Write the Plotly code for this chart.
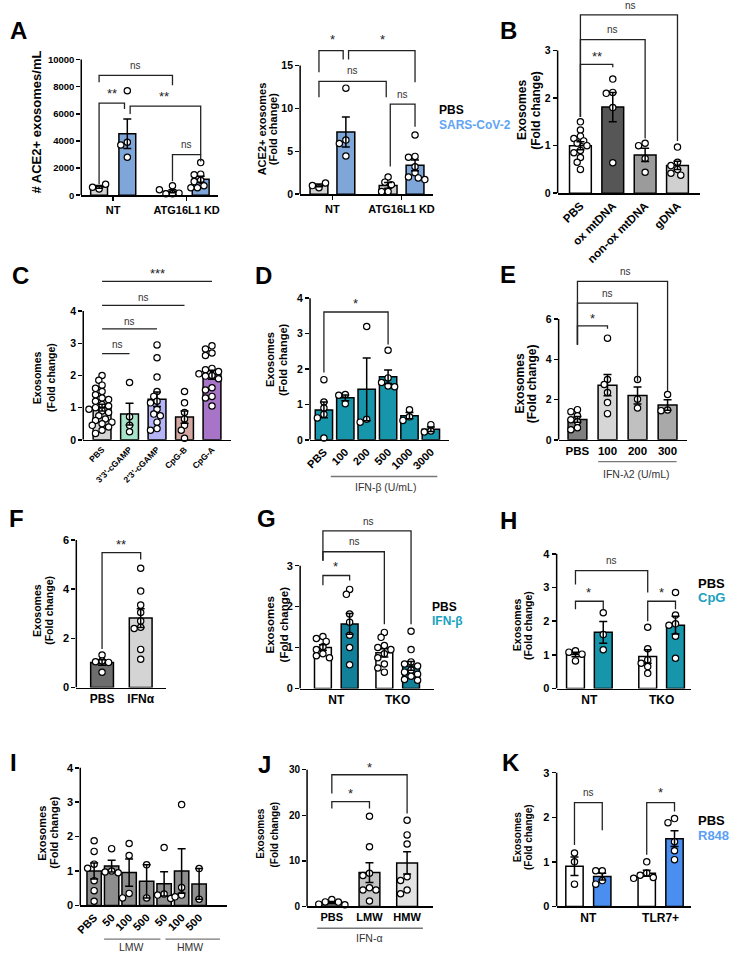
import plotly.graph_objects as go

W, H = 729, 959
FONT = "Liberation Sans"

# ======================= DATA =======================
# Panel A (left): ACE2+ exosome counts
A1_xlabels = ["NT", "ATG16L1 KD"]
A1_series = ["PBS", "SARS-CoV-2"]
A1_nt_pbs = [460, 580, 800]
A1_nt_sars = [7700, 3900, 3700, 2800]
A1_kd_pbs = [100, 100, 150, 400, 700]
A1_kd_sars = [2400, 1550, 1500, 1100, 1000, 700, 550, 550]
A1_yticks = [0, 2000, 4000, 6000, 8000, 10000]

# Panel A (right): fold change
A2_nt_pbs = [0.75, 1.0, 1.3]
A2_nt_sars = [12.35, 6.3, 5.9, 4.45]
A2_kd_pbs = [2.0, 1.4, 1.1, 0.3, 0.3]
A2_kd_sars = [6.9, 4.4, 4.3, 3.2, 2.5, 2.0, 1.9, 1.7]
A2_yticks = [0, 5, 10, 15]

# Panel B
B_labels = ["PBS", "ox mtDNA", "non-ox mtDNA", "gDNA"]
B_pbs = [1.5, 1.33, 1.2, 1.15, 1.1, 1.05, 1.0, 0.9, 0.85, 0.75, 0.65, 0.5]
B_ox = [2.4, 2.12, 2.1, 1.8, 0.64]
B_nonox = [1.05, 1.0, 0.73, 0.44]
B_gdna = [0.97, 0.65, 0.58, 0.5, 0.42, 0.38]
B_yticks = [0, 1, 2, 3]

# Panel C
C_labels = ["PBS", "3'3'-cGAMP", "2'3'-cGAMP", "CpG-B", "CpG-A"]
C_pbs = [2.0, 1.85, 1.7, 1.6, 1.5, 1.4, 1.3, 1.25, 1.2, 1.1, 1.05, 1.0,
         0.95, 0.9, 0.85, 0.75, 0.65, 0.6, 0.55, 0.5, 0.45, 0.4, 0.3, 0.2]
C_33 = [1.78, 0.72, 0.45, 0.25]
C_23 = [2.95, 2.55, 1.95, 1.5, 1.35, 1.2, 1.15, 0.95, 0.8, 0.75, 0.55, 0.35, 0.3]
C_cpgb = [1.5, 1.15, 0.85, 0.65, 0.45, 0.3, 0.05]
C_cpga = [2.92, 2.82, 2.7, 2.62, 2.22, 2.18, 2.12, 2.05, 2.0, 1.98, 1.9, 1.62,
          1.55, 1.35, 1.3, 1.05]
C_yticks = [0, 1, 2, 3, 4]

# Panel D
D_labels = ["PBS", "100", "200", "500", "1000", "3000"]
D_group = "IFN-β (U/mL)"
D_pbs = [1.7, 1.07, 0.9, 0.72, 0.62, 0.05]
D_100 = [1.28, 1.26, 1.02]
D_200 = [3.2, 0.58, 0.5]
D_500 = [2.53, 1.75, 1.62, 1.52, 1.5]
D_1000 = [0.85, 0.65, 0.55]
D_3000 = [0.43, 0.25, 0.22]
D_yticks = [0, 1, 2, 3, 4]

# Panel E
E_labels = ["PBS", "100", "200", "300"]
E_group = "IFN-λ2 (U/mL)"
E_pbs = [1.5, 1.4, 1.2, 1.0, 0.9, 0.6, 0.5]
E_100 = [5.05, 3.0, 2.75, 2.35, 1.85, 1.3]
E_200 = [3.0, 2.02, 1.58]
E_300 = [2.25, 1.48, 1.45]
E_yticks = [0, 2, 4, 6]

# Panel F
F_labels = ["PBS", "IFNα"]
F_pbs = [1.32, 1.08, 1.05, 1.02, 0.62]
F_ifna = [4.85, 3.92, 3.35, 3.05, 2.7, 2.45, 2.4, 1.55, 1.15]
F_yticks = [0, 2, 4, 6]

# Panel G
G_xlabels = ["NT", "TKO"]
G_series = ["PBS", "IFN-β"]
G_nt_pbs = [1.27, 1.22, 1.15, 1.02, 0.95, 0.85, 0.8, 0.75]
G_nt_ifn = [2.42, 2.3, 1.82, 1.62, 1.3, 1.0, 0.58]
G_tko_pbs = [1.37, 1.25, 1.05, 1.0, 0.95, 0.85, 0.75, 0.6, 0.5, 0.4]
G_tko_ifn = [1.4, 0.95, 0.65, 0.6, 0.55, 0.45, 0.4, 0.35, 0.3, 0.22, 0.2]
G_yticks = [0, 1, 2, 3]

# Panel H
H_xlabels = ["NT", "TKO"]
H_series = ["PBS", "CpG"]
H_nt_pbs = [1.12, 1.08, 1.02, 0.82]
H_nt_cpg = [2.25, 1.6, 1.15]
H_tko_pbs = [1.82, 1.18, 0.85, 0.75, 0.65, 0.45]
H_tko_cpg = [2.85, 2.18, 1.92, 1.88, 1.55, 0.9]
H_yticks = [0, 1, 2, 3, 4]

# Panel I
I_labels = ["PBS", "50", "100", "500", "50", "100", "500"]
I_groups = ["LMW", "HMW"]
I_pbs = [1.88, 1.57, 1.2, 1.08, 0.72, 0.43, 0.12]
I_lmw50 = [1.65, 1.0, 0.97, 0.95]
I_lmw100 = [1.8, 1.45, 0.35, 0.22]
I_lmw500 = [1.18, 0.22]
I_hmw50 = [1.68, 0.33, 0.3, 0.2]
I_hmw100 = [2.93, 0.52, 0.3, 0.25]
I_hmw500 = [1.07, 0.18]
I_yticks = [0, 1, 2, 3, 4]

# Panel J
J_labels = ["PBS", "LMW", "HMW"]
J_group = "IFN-α"
J_pbs = [1.5, 1.0, 0.95, 0.5, 0.35]
J_lmw = [19.8, 13.1, 7.3, 6.8, 4.1, 3.6, 3.6, 1.2]
J_hmw = [18.9, 15.7, 13.7, 6.5, 5.7, 3.6, 2.8]
J_yticks = [0, 10, 20, 30]

# Panel K
K_xlabels = ["NT", "TLR7+"]
K_series = ["PBS", "R848"]
K_nt_pbs = [1.2, 1.0, 0.5]
K_nt_r848 = [0.8, 0.8, 0.58, 0.5]
K_tlr_pbs = [1.0, 0.75, 0.7, 0.65, 0.63]
K_tlr_r848 = [1.97, 1.88, 1.45, 1.25, 1.05]
K_yticks = [0, 1, 2, 3]

YTITLE = ["Exosomes", "(Fold change)"]

# ======================= STYLE =======================
GREY_L = "#d2d2d2"
SARS_BAR = "#7ea6d8"
SARS_TXT = "#5fa4f4"
TEAL = "#1795aa"
TEAL_TXT = "#1aa0bf"
R848_BAR = "#4a8ff0"
R848_TXT = "#5aa0f5"

fig = go.Figure()
LAY, SHAPES, ANN = {}, [], []


def mean(v):
    return sum(v) / len(v)


def sem(v):
    m = mean(v)
    return (sum((a - m) ** 2 for a in v) / (len(v) - 1)) ** 0.5 / len(v) ** 0.5


def swarm(vals, ppx, ppy, d=6.6):
    placed, offs = [], []
    cands = [0.0]
    for k in range(1, 14):
        cands += [-0.5 * k * d, 0.5 * k * d]
    for v in vals:
        y = v * ppy
        c = 0.0
        for c in cands:
            if all((c - px) ** 2 + (y - py) ** 2 >= (0.88 * d) ** 2 for px, py in placed):
                break
        placed.append((c, y))
        offs.append(c / ppx)
    return offs


def font(size, bold=True, color="black"):
    f = dict(family=FONT, size=size, color=color)
    if bold:
        f["weight"] = "bold"
    return f


def text(t, xpx, ypx, size, bold=True, color="black", angle=0, xanchor="center"):
    ANN.append(dict(text=t, x=xpx / W, y=1 - ypx / H, xref="paper", yref="paper",
                    showarrow=False, textangle=angle, xanchor=xanchor, yanchor="middle",
                    font=font(size, bold, color)))


def panel(n, P):
    xl, xr, yb = P["xl"], P["xr"], P["yb"]
    ytval = P["yticks"][-1]
    pos = P["pos"]
    c0, c1 = P["px_c"]
    ppy = (yb - P["ytick_px"]) / ytval
    ppx = (c1 - c0) / (pos[-1] - pos[0])
    s = "" if n == 1 else str(n)
    xid, yid = "x" + s, "y" + s
    LAY["xaxis" + s] = dict(
        domain=[xl / W, xr / W], range=[pos[0] - (c0 - xl) / ppx, pos[0] + (xr - c0) / ppx],
        anchor=yid, showline=True, linecolor="black", linewidth=1.5, showgrid=False,
        zeroline=False, tickmode="array", tickvals=P["xtv"], ticktext=P["xtt"],
        tickangle=P.get("angle", 0), ticks="outside" if P.get("xticks") else "",
        ticklen=4, tickwidth=1.5, tickcolor="black", tickfont=font(P["xfs"]), fixedrange=True)
    LAY["yaxis" + s] = dict(
        domain=[1 - yb / H, 1 - P["ytop"] / H], range=[0, (yb - P["ytop"]) / ppy],
        anchor=xid, showline=False, showgrid=False, zeroline=False, tickmode="array",
        tickvals=P["yticks"], ticktext=[str(v) for v in P["yticks"]],
        ticks="outside", ticklen=4, tickwidth=1.5, tickcolor="black",
        tickfont=font(P.get("yfs", 10)), fixedrange=True)
    SHAPES.append(dict(type="line", xref=xid + " domain", yref=yid, x0=0, x1=0, y0=0, y1=ytval,
                       line=dict(color="black", width=1.5)))
    groups = P["groups"]
    means = [mean(g) for g in groups]
    sems = [sem(g) for g in groups]
    fig.add_trace(go.Bar(x=pos, y=means, width=P["bw"] / ppx,
                         marker=dict(color=P["colors"], line=dict(color="black", width=1.5)),
                         xaxis=xid, yaxis=yid, showlegend=False, hoverinfo="skip"))
    dx, dy = [], []
    for p, g in zip(pos, groups):
        for o, v in zip(swarm(g, ppx, ppy), g):
            dx.append(p + o)
            dy.append(v)
    fig.add_trace(go.Scatter(x=dx, y=dy, mode="markers", cliponaxis=False,
                             marker=dict(size=6.3, color="white", line=dict(color="black", width=1.2)),
                             xaxis=xid, yaxis=yid, showlegend=False, hoverinfo="skip"))
    fig.add_trace(go.Scatter(x=pos, y=means, mode="markers",
                             marker=dict(size=1, color="rgba(0,0,0,0)"),
                             error_y=dict(type="data", array=sems, color="black", thickness=1.5, width=4),
                             xaxis=xid, yaxis=yid, showlegend=False, hoverinfo="skip"))
    for b in P.get("brackets", []):
        x1, x2, y, l1, l2, t, ty, tx = b
        if l1 is None:
            bx, by = [x1, x2], [y, y]
        else:
            bx, by = [x1, x1, x2, x2], [l1, y, y, l2]
        fig.add_trace(go.Scatter(x=bx, y=by, mode="lines", line=dict(color="#222", width=1.3),
                                 xaxis=xid, yaxis=yid, showlegend=False, hoverinfo="skip"))
        if t == "ns":
            f = font(10, False, "#333")
        else:
            f = font(13, False, "#222")
        ANN.append(dict(text=t, x=tx, y=ty, xref=xid, yref=yid, showarrow=False,
                        xanchor="center", yanchor="middle", font=f))
    for u in P.get("under", []):
        ux1, ux2, upy, ut, utx, uty = u
        SHAPES.append(dict(type="line", xref=xid, yref="paper", x0=ux1, x1=ux2,
                           y0=1 - upy / H, y1=1 - upy / H, line=dict(color="#777", width=1.3)))
        ANN.append(dict(text=ut, x=utx, y=1 - uty / H, xref=xid, yref="paper", showarrow=False,
                        xanchor="center", yanchor="middle", font=font(10.5, False, "#333")))
    tfs = P["tfs"]
    for t, xp in zip(P["title"], P["title_x"]):
        text(t, xp, P["title_y"], tfs, angle=-90)
    if P["letter"]:
        text(P["letter"], P["lx"], P["ly"], 24, xanchor="left")


# ======================= PANELS =======================
panel(1, dict(xl=77, xr=215, yb=194, ytick_px=57, ytop=50, yticks=A1_yticks,
              pos=[0, 1, 2.6, 3.6], px_c=(95, 197.6), bw=17,
              groups=[A1_nt_pbs, A1_nt_sars, A1_kd_pbs, A1_kd_sars],
              colors=[GREY_L, SARS_BAR, GREY_L, SARS_BAR],
              xtv=[0.5, 3.1], xtt=A1_xlabels, xticks=True, xfs=11, yfs=9.5,
              brackets=[(0, 2.6, 8832, 8321, 8102, "ns", 9562, 1.3),
                        (0, 0.9, 6788, 803, 6350, "**", 7518, 0.45),
                        (1.1, 3.6, 6569, 5985, 2993, "**", 7299, 2.3),
                        (2.6, 3.6, 2993, 1022, 2482, "ns", 3723, 3.1)],
              title=["# ACE2+ exosomes/mL"], title_x=[32], title_y=120, tfs=13,
              letter="A", lx=3, ly=28))

panel(2, dict(xl=298, xr=432, yb=193, ytick_px=63, ytop=30, yticks=A2_yticks,
              pos=[0, 1, 2.57, 3.57], px_c=(317, 414), bw=18,
              groups=[A2_nt_pbs, A2_nt_sars, A2_kd_pbs, A2_kd_sars],
              colors=[GREY_L, SARS_BAR, GREY_L, SARS_BAR],
              xtv=[0.5, 3.07], xtt=A1_xlabels, xticks=True, xfs=11, yfs=10.5,
              brackets=[(0, 0.9, 16.73, 14.2, 15.7, "*", 18.0, 0.5),
                        (1.1, 3.57, 16.73, 15.7, 13.04, "*", 18.0, 2.35),
                        (0, 2.5, 13.15, 11.3, 11.3, "ns", 14.4, 1.25),
                        (2.65, 3.57, 10.5, 3.23, 7.85, "ns", 11.65, 3.1)],
              title=["ACE2+ exosomes", "(Fold change)"], title_x=[259, 270], title_y=127, tfs=11,
              letter="", lx=0, ly=0))
text(A1_series[0], 436, 108, 12, xanchor="left")
text(A1_series[1], 436, 123, 12, color=SARS_TXT, xanchor="left")

panel(3, dict(xl=558, xr=702, yb=192, ytick_px=48, ytop=0, yticks=B_yticks,
              pos=[0, 1, 2, 3], px_c=(581, 679), bw=22,
              groups=[B_pbs, B_ox, B_nonox, B_gdna],
              colors=["white", "#565656", "#9b9b9b", "#d0d0d0"],
              xtv=[0, 1, 2, 3], xtt=B_labels, angle=-45, xfs=11.5, yfs=10.5,
              brackets=[(0, 1, 2.71, 1.6, 2.65, "**", 2.87, 0.5),
                        (0, 2, 3.23, 1.6, 1.15, "ns", 3.44, 1.0),
                        (0, 3, 3.75, 1.6, 1.1, "ns", 3.94, 1.55)],
              title=YTITLE, title_x=[522, 536], title_y=108, tfs=12,
              letter="B", lx=498, ly=28))

panel(4, dict(xl=79, xr=228, yb=441, ytick_px=311, ytop=262, yticks=C_yticks,
              pos=[0, 1, 2, 3, 4], px_c=(98, 209), bw=18,
              groups=[C_pbs, C_33, C_23, C_cpgb, C_cpga],
              colors=["#d4d4d4", "#a6e3c8", "#b6b4f7", "#d2a6a1", "#a874c7"],
              xtv=[0, 1, 2, 3, 4], xtt=C_labels, angle=-45, xfs=8.5, yfs=10.5,
              brackets=[(0, 1, 2.68, None, None, "ns", 2.95, 0.55),
                        (0, 2, 3.45, None, None, "ns", 3.69, 1.0),
                        (0, 3, 4.18, None, None, "ns", 4.43, 1.5),
                        (0, 4, 4.92, None, None, "***", 5.17, 2.0)],
              title=YTITLE, title_x=[33, 47], title_y=378, tfs=10.5,
              letter="C", lx=5, ly=275))

panel(5, dict(xl=308, xr=448, yb=441, ytick_px=298, ytop=295, yticks=D_yticks,
              pos=[0, 1, 2, 3, 4, 5], px_c=(322, 430), bw=17.5,
              groups=[D_pbs, D_100, D_200, D_500, D_1000, D_3000],
              colors=[TEAL] * 6,
              xtv=[0, 1, 2, 3, 4, 5], xtt=D_labels, angle=-45, xfs=11, yfs=10.5,
              brackets=[(0, 3, 3.61, 1.9, 2.69, "*", 3.86, 1.48)],
              under=[(0.32, 5.3, 478, D_group, 2.9, 489)],
              title=YTITLE, title_x=[267, 280], title_y=360, tfs=11,
              letter="D", lx=250, ly=275))

panel(6, dict(xl=559, xr=689, yb=441, ytick_px=319, ytop=262, yticks=E_yticks,
              pos=[0, 1, 2, 3], px_c=(578, 669), bw=19,
              groups=[E_pbs, E_100, E_200, E_300],
              colors=["#7f7f7f", "#d6d6d6", "#c0c0c0", "#a9a9a9"],
              xtv=[0, 1, 2, 3], xtt=E_labels, xfs=11.5, yfs=10.5,
              brackets=[(0, 1, 5.66, 4.72, 5.51, "*", 6.05, 0.5),
                        (0, 2, 6.79, 4.72, 2.9, "ns", 7.28, 1.0),
                        (0, 3, 7.87, 4.72, 2.41, "ns", 8.36, 1.6)],
              under=[(0.69, 3.3, 463, E_group, 1.95, 475)],
              title=YTITLE, title_x=[520, 533], title_y=384, tfs=12,
              letter="E", lx=498, ly=274))

panel(7, dict(xl=72, xr=163, yb=691, ytick_px=542, ytop=536, yticks=F_yticks,
              pos=[0, 1], px_c=(98, 137), bw=23,
              groups=[F_pbs, F_ifna], colors=["#6d6d6d", "#d4d4d4"],
              xtv=[0, 1], xtt=F_labels, xfs=12, yfs=11,
              brackets=[(0, 1, 5.48, 1.57, 5.2, "**", 5.8, 0.5)],
              title=YTITLE, title_x=[33, 45], title_y=613, tfs=10.5,
              letter="F", lx=2, ly=520))

panel(8, dict(xl=298, xr=433, yb=692, ytick_px=568, ytop=515, yticks=G_yticks,
              pos=[0, 1, 2.3, 3.3], px_c=(321, 410), bw=17,
              groups=[G_nt_pbs, G_nt_ifn, G_tko_pbs, G_tko_ifn],
              colors=["white", "#13809a", "white", "#13809a"],
              xtv=[0.5, 2.8], xtt=G_xlabels, xfs=12, yfs=11,
              brackets=[(0, 3.3, 3.85, 3.12, 1.57, "ns", 4.09, 1.7),
                        (0, 2.3, 3.34, 3.12, 1.57, "ns", 3.58, 1.2),
                        (0, 1, 2.76, 2.52, 2.64, "*", 2.98, 0.48)],
              title=YTITLE, title_x=[268, 282], title_y=627, tfs=11.5,
              letter="G", lx=252, ly=520))
text(G_series[0], 429, 610, 12, xanchor="left")
text(G_series[1], 429, 624, 12, color=TEAL_TXT, xanchor="left")

panel(9, dict(xl=557, xr=693, yb=692, ytick_px=556, ytop=550, yticks=H_yticks,
              pos=[0, 1, 2.6, 3.6], px_c=(576, 677), bw=18,
              groups=[H_nt_pbs, H_nt_cpg, H_tko_pbs, H_tko_cpg],
              colors=["white", TEAL, "white", TEAL],
              xtv=[0.5, 3.1], xtt=H_xlabels, xfs=12, yfs=11,
              brackets=[(0, 2.6, 3.5, 3.09, 2.85, "ns", 3.79, 1.3),
                        (0, 1, 2.59, 2.35, 2.35, "*", 2.85, 0.46),
                        (2.6, 3.6, 2.59, 2.0, 2.35, "*", 2.85, 3.1)],
              title=YTITLE, title_x=[517, 528], title_y=628, tfs=10.5,
              letter="H", lx=498, ly=522))
text(H_series[0], 698, 586, 13, xanchor="left")
text(H_series[1], 698, 600, 13, color=TEAL_TXT, xanchor="left")

panel(10, dict(xl=76, xr=224, yb=911, ytick_px=772, ytop=765, yticks=I_yticks,
               pos=[0, 1, 2, 3, 4, 5, 6], px_c=(90, 196), bw=14.5,
               groups=[I_pbs, I_lmw50, I_lmw100, I_lmw500, I_hmw50, I_hmw100, I_hmw500],
               colors=["#8e8e8e"] * 7,
               xtv=[0, 1, 2, 3, 4, 5, 6], xtt=I_labels, angle=-45, xfs=11, yfs=11,
               under=[(0.57, 3.79, 945, I_groups[0], 2.15, 953),
                      (4.07, 7.19, 945, I_groups[1], 5.5, 953)],
               title=YTITLE, title_x=[37, 50], title_y=838, tfs=11,
               letter="I", lx=3, ly=767))

panel(11, dict(xl=305, xr=432, yb=912, ytick_px=774, ytop=765, yticks=J_yticks,
               pos=[0, 1, 2], px_c=(330, 406), bw=21,
               groups=[J_pbs, J_lmw, J_hmw], colors=["#6f6f6f", "#c4c4c4", "#e3e3e3"],
               xtv=[0, 1, 2], xtt=J_labels, xfs=11, yfs=10,
               brackets=[(0, 2, 28.9, 24.8, 20.4, "*", 30.4, 1.0),
                         (0, 1, 23.0, 21.5, 21.5, "*", 24.8, 0.5)],
               under=[(-0.39, 2.42, 934, J_group, 1.0, 944)],
               title=YTITLE, title_x=[258, 272], title_y=839, tfs=10,
               letter="J", lx=253, ly=769))

panel(12, dict(xl=557, xr=693, yb=912, ytick_px=777, ytop=765, yticks=K_yticks,
               pos=[0, 1, 2.6, 3.6], px_c=(575, 676), bw=17.5,
               groups=[K_nt_pbs, K_nt_r848, K_tlr_pbs, K_tlr_r848],
               colors=["white", R848_BAR, "white", R848_BAR],
               xtv=[0.5, 3.1], xtt=K_xlabels, xfs=12, yfs=11,
               brackets=[(0, 1, 2.33, 1.38, 1.71, "ns", 2.56, 0.5),
                         (2.6, 3.6, 2.33, 1.16, 2.13, "*", 2.56, 3.1)],
               title=YTITLE, title_x=[517, 528], title_y=842, tfs=10,
               letter="K", lx=500, ly=767))
text(K_series[0], 698, 825, 13, xanchor="left")
text(K_series[1], 698, 840, 13, color=R848_TXT, xanchor="left")

fig.update_layout(width=W, height=H, margin=dict(l=0, r=0, t=0, b=0),
                  paper_bgcolor="white", plot_bgcolor="white", showlegend=False,
                  font=dict(family=FONT, color="black"),
                  shapes=SHAPES, annotations=ANN, **LAY)
fig.write_html("out.html", config={"displayModeBar": False, "staticPlot": True},
               post_script="document.body.style.margin='0px';document.body.style.overflow='hidden';")
